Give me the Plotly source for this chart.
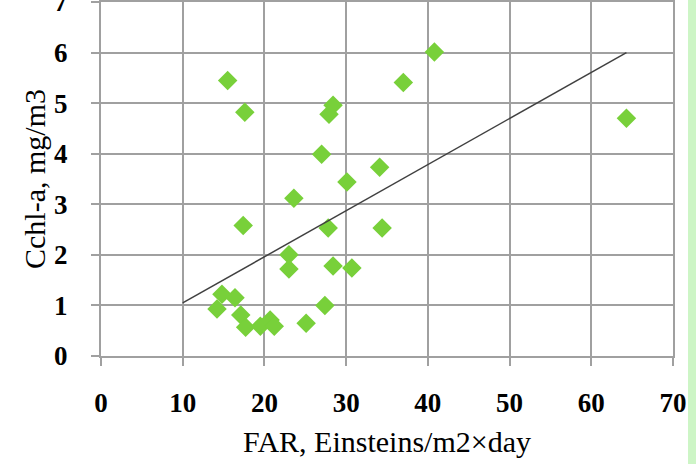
import plotly.graph_objects as go

# Data
far = [15.5, 17.6, 17.4, 14.8, 16.4, 14.2, 17.1, 17.7, 19.5, 20.7, 21.2, 25.1, 27.4,
       28.4, 27.9, 27.0, 30.1, 34.1, 23.6, 27.8, 34.4, 23.0, 23.0, 28.4, 30.7, 40.8,
       37.0, 64.3]
chl = [5.45, 4.82, 2.58, 1.22, 1.15, 0.93, 0.81, 0.57, 0.59, 0.71, 0.59, 0.65, 1.00,
       4.96, 4.78, 3.99, 3.44, 3.73, 3.12, 2.53, 2.53, 2.00, 1.72, 1.78, 1.74, 6.01,
       5.41, 4.70]
trend_x = [10, 64.3]
trend_y = [1.05, 6.0]
x_ticks = [0, 10, 20, 30, 40, 50, 60, 70]
y_ticks = [0, 1, 2, 3, 4, 5, 6, 7]

SERIF = "Liberation Serif"
GRID = "#A0A0A0"

fig = go.Figure()
fig.add_trace(go.Scatter(
    x=far, y=chl, mode="markers",
    marker=dict(symbol="diamond", size=15, color="#78D03A", line=dict(width=0)),
    showlegend=False, cliponaxis=False,
))
fig.add_trace(go.Scatter(
    x=trend_x, y=trend_y, mode="lines",
    line=dict(color="#404040", width=1.5),
    showlegend=False,
))

fig.update_layout(
    width=696, height=464,
    margin=dict(l=101, r=23, t=2, b=108),
    paper_bgcolor="white", plot_bgcolor="white",
    font=dict(family=SERIF, color="black"),
    xaxis=dict(
        range=[0, 70], tickvals=x_ticks, ticktext=[str(v) for v in x_ticks],
        showgrid=True, gridcolor=GRID, gridwidth=2,
        showline=True, linecolor=GRID, linewidth=2, mirror=True,
        ticks="outside", ticklen=8, tickcolor=GRID, tickwidth=2,
        tickfont=dict(family=SERIF, size=27, weight="bold", color="black"),
        ticklabelstandoff=14, ticklabeloverflow="allow",
        title=dict(text="FAR, Einsteins/m2×day", font=dict(family=SERIF, size=30, color="black"),
                   standoff=14),
        zeroline=False, automargin=False,
    ),
    yaxis=dict(
        range=[0, 7], tickvals=y_ticks, ticktext=[str(v) for v in y_ticks],
        showgrid=True, gridcolor=GRID, gridwidth=2,
        showline=True, linecolor=GRID, linewidth=2, mirror=True,
        ticks="outside", ticklen=8, tickcolor=GRID, tickwidth=2,
        tickfont=dict(family=SERIF, size=27, weight="bold", color="black"),
        ticklabelstandoff=18, ticklabeloverflow="allow",
        title=dict(text="Cchl-a, mg/m3", font=dict(family=SERIF, size=30, color="black"),
                   standoff=0),
        zeroline=False, automargin=False,
    ),
    shapes=[dict(type="rect", xref="paper", yref="paper",
                 x0=(688 - 101) / 572, x1=1.05, y0=-0.35, y1=1.02,
                 fillcolor="#CDF5C6", line=dict(width=0), layer="above")],
)

fig.write_html("out.html")
